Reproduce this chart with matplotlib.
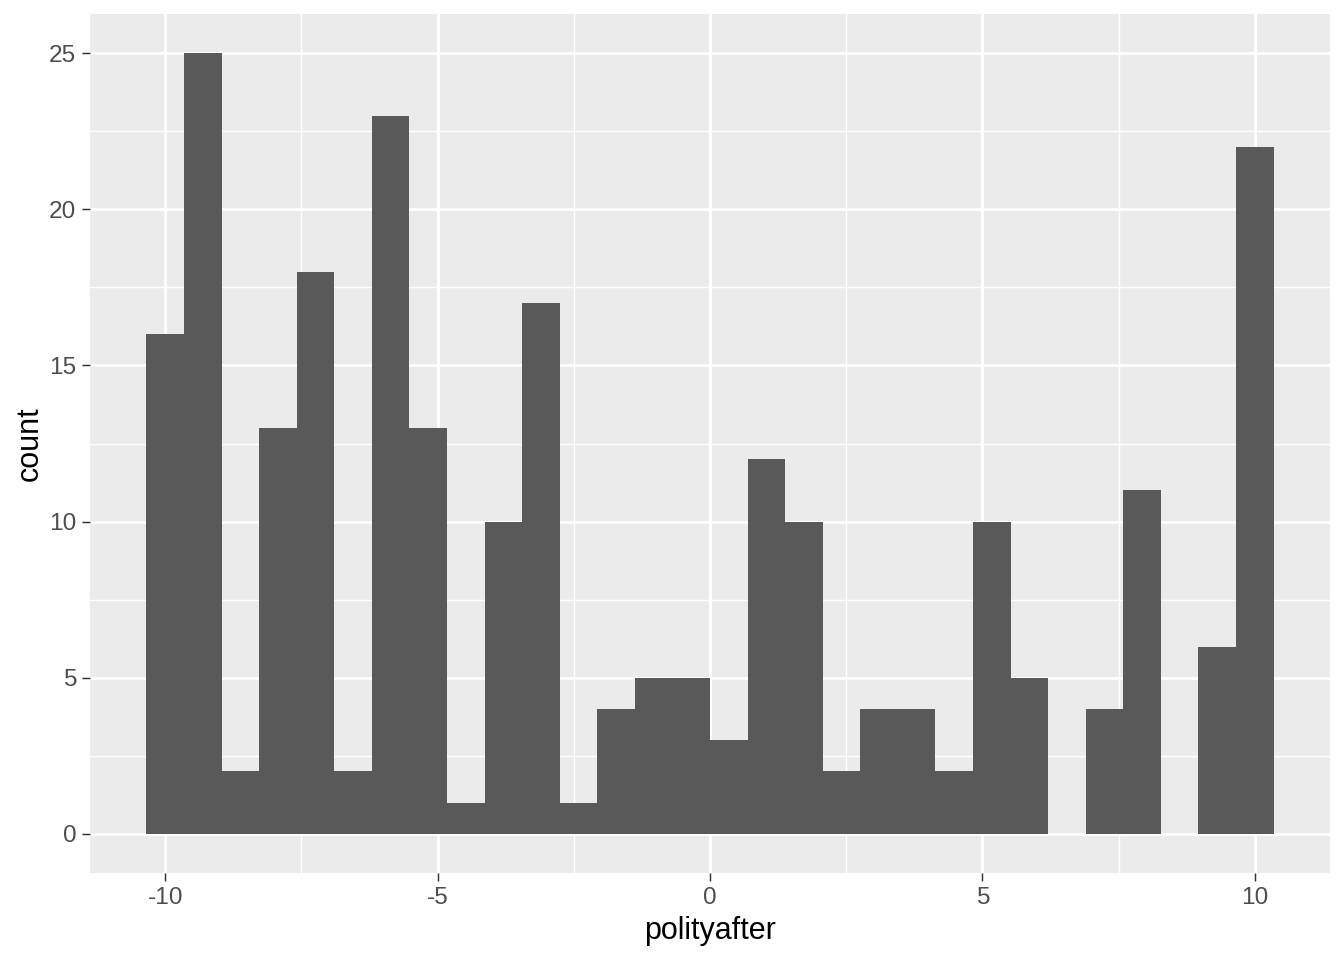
import numpy as np
import matplotlib
matplotlib.use("Agg")
import matplotlib.pyplot as plt

plt.rcParams['font.family'] = ['Liberation Sans', 'DejaVu Sans']

# histogram: 30 bins over polityafter range -10..10 (ggplot default bins=30)
x_min, x_max = -10, 10
n_bins = 30
counts = [16, 25, 2, 13, 18, 2, 23, 13, 1, 10, 17, 1, 4, 5, 5,
          3, 12, 10, 2, 4, 4, 2, 10, 5, 0, 4, 11, 0, 6, 22]
x_ticks = [-10, -5, 0, 5, 10]
y_ticks = [0, 5, 10, 15, 20, 25]
x_label = "polityafter"
y_label = "count"

width = (x_max - x_min) / (n_bins - 1)
centers = x_min + width * np.arange(n_bins)
edges = np.concatenate([centers - width / 2, [centers[-1] + width / 2]])

fig = plt.figure(figsize=(6.72, 4.8), dpi=200)
ax = fig.add_axes([90 / 1344, 1 - 873 / 960, (1330 - 90) / 1344, (873 - 14) / 960])
ax.set_facecolor('#EBEBEB')

ax.hist(centers, bins=edges, weights=counts, color='#595959', zorder=3)

lo, hi = edges[0], edges[-1]
pad = (hi - lo) * 0.05
ax.set_xlim(lo - pad, hi + pad)
ax.set_ylim(-1.25, 26.25)

ax.set_xticks(x_ticks)
ax.set_xticklabels([str(t) for t in x_ticks])
ax.set_yticks(y_ticks)
ax.set_xticks([-7.5, -2.5, 2.5, 7.5], minor=True)
ax.set_yticks([2.5, 7.5, 12.5, 17.5, 22.5], minor=True)

ax.grid(which='major', color='white', linewidth=1.07, zorder=1)
ax.grid(which='minor', color='white', linewidth=0.53, zorder=1)
ax.set_axisbelow(True)
for s in ax.spines.values():
    s.set_visible(False)

ax.tick_params(which='major', length=2.75, width=0.53, color='#333333',
               labelsize=8.8, labelcolor='#4D4D4D', pad=2.2)
ax.tick_params(which='minor', length=0)

ax.set_xlabel(x_label, fontsize=11, color='black', labelpad=2.5)
ax.set_ylabel(y_label, fontsize=11, color='black', labelpad=1.5)

fig.savefig('out.png', dpi=200, facecolor='white')
